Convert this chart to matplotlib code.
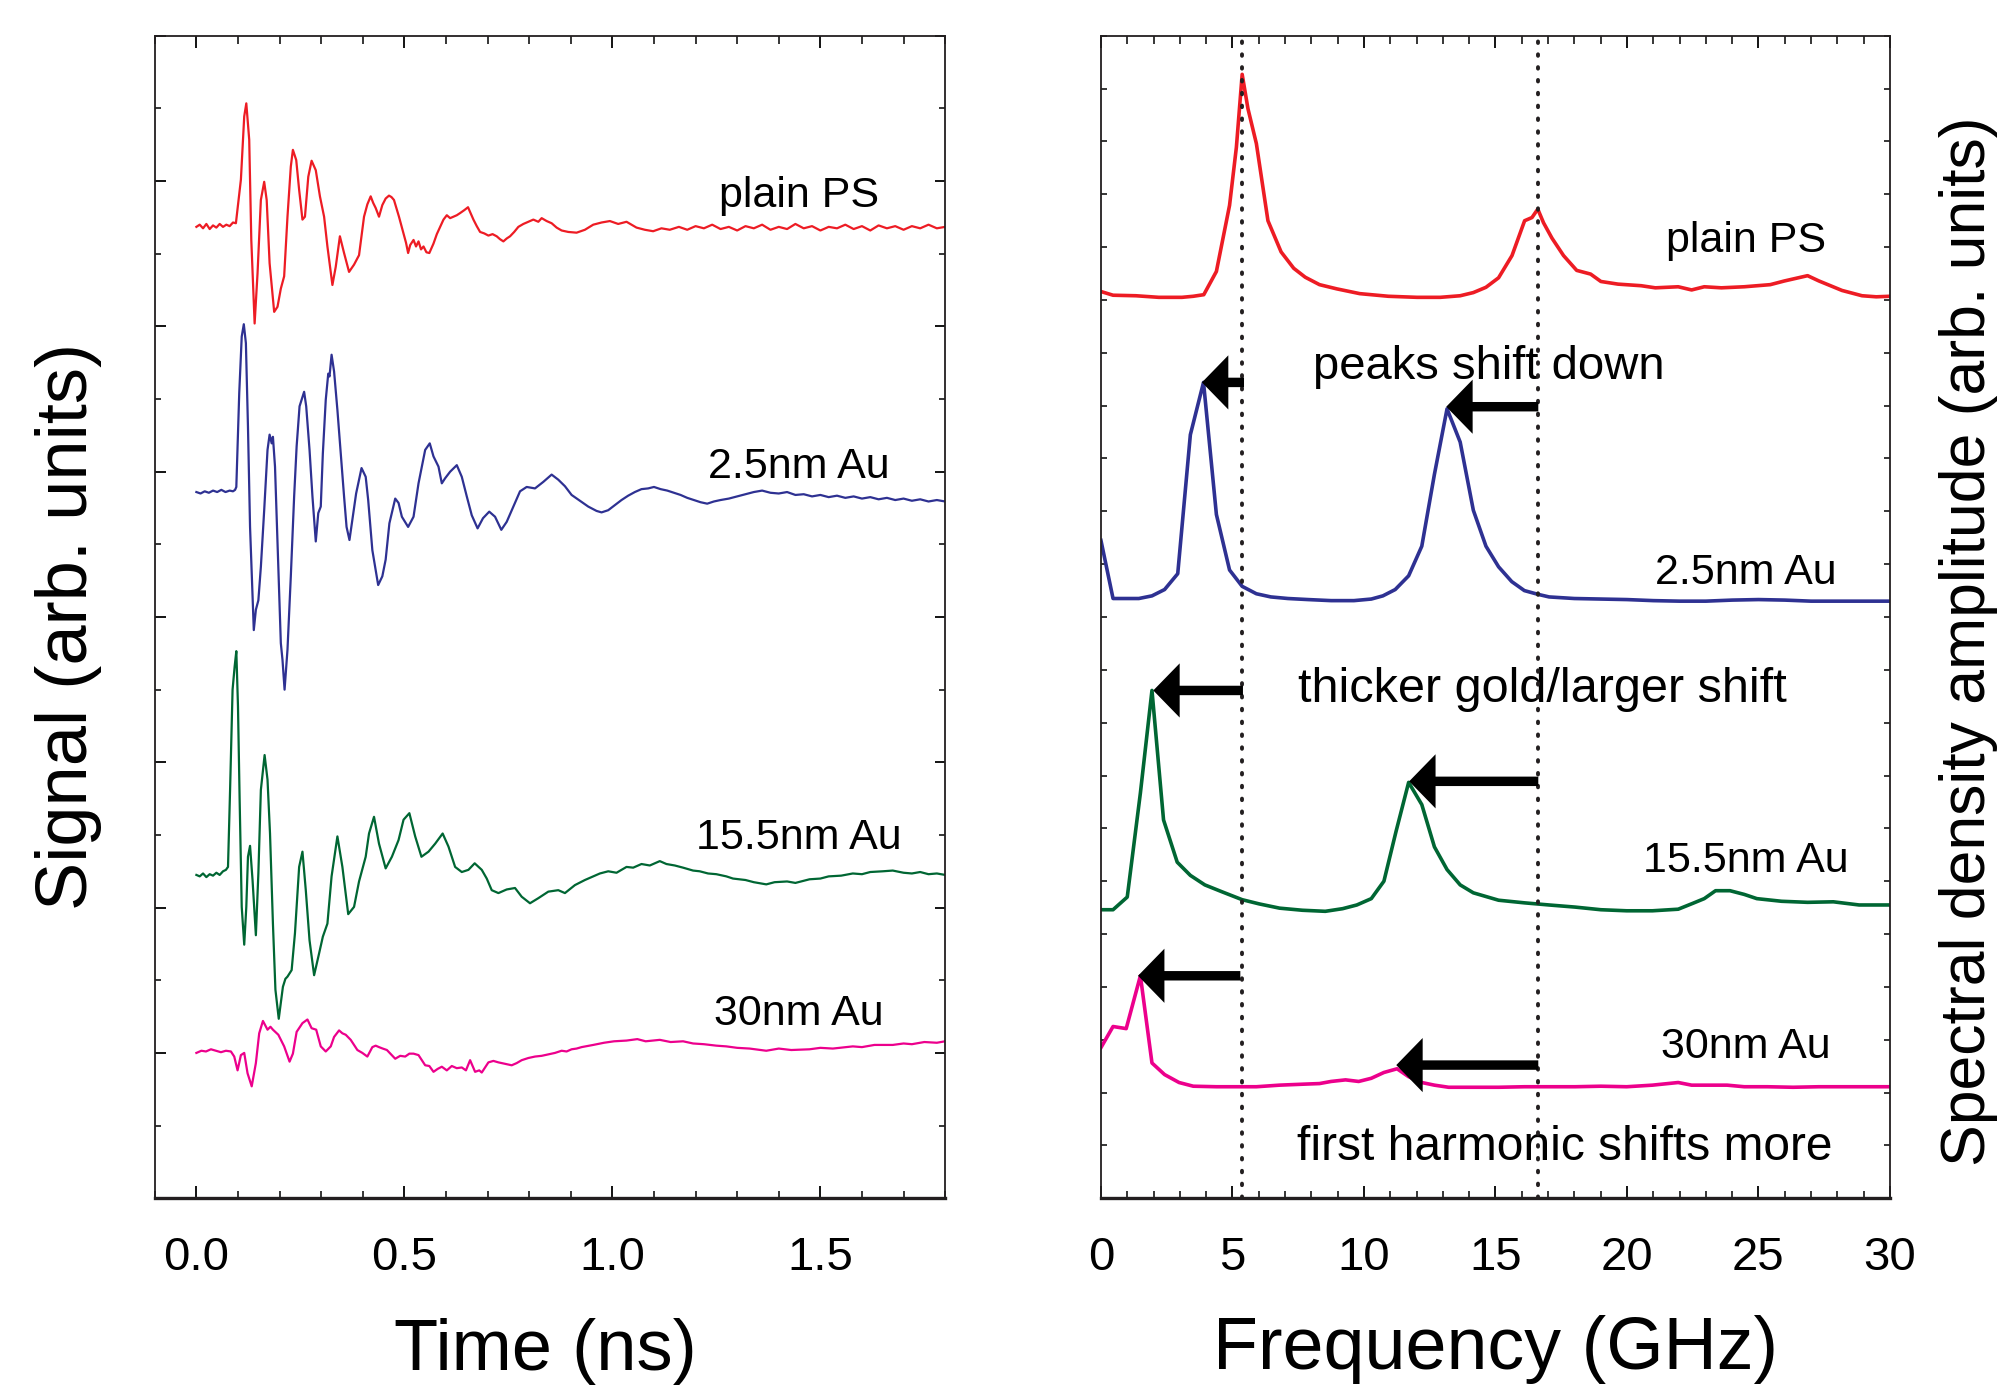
import matplotlib
matplotlib.use("Agg")
import matplotlib.pyplot as plt
from matplotlib.ticker import MultipleLocator, FixedLocator
from matplotlib.patches import ArrowStyle
from matplotlib import font_manager as fm

# ---------------- data: time-domain traces (ns, arb. units incl. offset) ----------------
t_red = [0.000, 0.008, 0.016, 0.024, 0.032, 0.040, 0.048, 0.056, 0.064, 0.072, 0.080, 0.088, 0.095,
         0.107, 0.115, 0.120, 0.127, 0.132, 0.140, 0.147, 0.155, 0.163, 0.169, 0.176, 0.187, 0.195,
         0.203, 0.211, 0.219, 0.227, 0.232, 0.240, 0.247, 0.255, 0.261, 0.269, 0.277, 0.287, 0.297,
         0.307, 0.315, 0.327, 0.335, 0.345, 0.355, 0.367, 0.373, 0.379, 0.391, 0.403, 0.411, 0.419,
         0.425, 0.431, 0.439, 0.447, 0.455, 0.463, 0.469, 0.475, 0.487, 0.498, 0.504, 0.509, 0.514,
         0.522, 0.528, 0.534, 0.540, 0.546, 0.553, 0.560, 0.570, 0.578, 0.586, 0.594, 0.602, 0.610,
         0.618, 0.626, 0.634, 0.644, 0.653, 0.660, 0.666, 0.674, 0.682, 0.692, 0.702, 0.712, 0.722,
         0.730, 0.738, 0.746, 0.754, 0.764, 0.774, 0.786, 0.798, 0.810, 0.822, 0.830, 0.842, 0.854,
         0.866, 0.878, 0.894, 0.914, 0.934, 0.954, 0.974, 0.994, 1.014, 1.034, 1.058, 1.078, 1.098,
         1.118, 1.138, 1.16, 1.18, 1.20, 1.22, 1.24, 1.26, 1.28, 1.30, 1.32, 1.34, 1.36, 1.38, 1.40,
         1.42, 1.44, 1.46, 1.48, 1.50, 1.52, 1.54, 1.56, 1.58, 1.60, 1.62, 1.64, 1.66, 1.68, 1.70,
         1.72, 1.74, 1.76, 1.78, 1.80]
v_red = [13.37, 13.40, 13.35, 13.41, 13.34, 13.39, 13.36, 13.41, 13.37, 13.40, 13.38, 13.43, 13.42,
         14.02, 14.89, 15.07, 14.57, 13.19, 12.04, 12.73, 13.74, 13.99, 13.74, 12.87, 12.20, 12.27,
         12.52, 12.69, 13.51, 14.20, 14.43, 14.29, 13.88, 13.47, 13.51, 14.06, 14.28, 14.15, 13.79,
         13.51, 13.10, 12.57, 12.82, 13.24, 13.01, 12.75, 12.80, 12.85, 12.98, 13.51, 13.68, 13.79,
         13.70, 13.63, 13.51, 13.67, 13.76, 13.80, 13.78, 13.74, 13.51, 13.28, 13.15, 13.01, 13.12,
         13.19, 13.10, 13.17, 13.06, 13.10, 13.02, 13.01, 13.14, 13.27, 13.37, 13.47, 13.53, 13.49,
         13.51, 13.53, 13.56, 13.60, 13.64, 13.55, 13.47, 13.38, 13.30, 13.28, 13.25, 13.27, 13.24,
         13.20, 13.17, 13.21, 13.24, 13.30, 13.37, 13.41, 13.44, 13.47, 13.44, 13.49, 13.45, 13.42,
         13.36, 13.32, 13.30, 13.29, 13.33, 13.40, 13.43, 13.45, 13.41, 13.44, 13.36, 13.33, 13.31,
         13.35, 13.33, 13.37, 13.33, 13.38, 13.35, 13.40, 13.34, 13.37, 13.32, 13.38, 13.35, 13.40,
         13.33, 13.37, 13.34, 13.41, 13.35, 13.38, 13.32, 13.37, 13.35, 13.40, 13.34, 13.38, 13.32,
         13.39, 13.35, 13.38, 13.33, 13.38, 13.35, 13.40, 13.35, 13.37]

t_blue = [0.000, 0.010, 0.020, 0.030, 0.040, 0.050, 0.060, 0.070, 0.080, 0.088, 0.093, 0.096,
          0.103, 0.109, 0.114, 0.119, 0.124, 0.129, 0.138, 0.143, 0.149, 0.155, 0.163, 0.171,
          0.176, 0.181, 0.184, 0.189, 0.195, 0.203, 0.207, 0.212, 0.219, 0.227, 0.235, 0.241,
          0.248, 0.255, 0.259, 0.264, 0.272, 0.279, 0.287, 0.293, 0.299, 0.304, 0.311, 0.317,
          0.320, 0.325, 0.331, 0.339, 0.347, 0.355, 0.361, 0.368, 0.375, 0.384, 0.397, 0.407,
          0.413, 0.423, 0.437, 0.447, 0.455, 0.464, 0.478, 0.486, 0.494, 0.509, 0.522, 0.534,
          0.550, 0.561, 0.570, 0.582, 0.590, 0.598, 0.610, 0.626, 0.638, 0.650, 0.662, 0.676,
          0.689, 0.704, 0.718, 0.733, 0.746, 0.762, 0.778, 0.794, 0.814, 0.834, 0.854, 0.870,
          0.886, 0.902, 0.922, 0.942, 0.962, 0.974, 0.990, 1.006, 1.022, 1.038, 1.054, 1.070,
          1.086, 1.100, 1.116, 1.132, 1.148, 1.164, 1.180, 1.196, 1.212, 1.228, 1.244, 1.260,
          1.280, 1.300, 1.320, 1.340, 1.360, 1.380, 1.400, 1.420, 1.440, 1.460, 1.480, 1.500,
          1.520, 1.540, 1.560, 1.580, 1.600, 1.620, 1.640, 1.660, 1.680, 1.700, 1.720, 1.740,
          1.760, 1.780, 1.800]
v_blue = [9.72, 9.70, 9.73, 9.71, 9.74, 9.72, 9.75, 9.72, 9.74, 9.73, 9.75, 9.79,
          11.08, 11.86, 12.03, 11.77, 10.62, 9.24, 7.82, 8.10, 8.23, 8.69, 9.47, 10.30,
          10.51, 10.39, 10.48, 10.07, 9.01, 7.64, 7.41, 7.00, 7.55, 8.56, 9.66, 10.35,
          10.90, 11.03, 11.10, 10.90, 10.30, 9.66, 9.04, 9.43, 9.52, 10.25, 10.99, 11.35,
          11.31, 11.61, 11.38, 10.85, 10.25, 9.66, 9.24, 9.06, 9.34, 9.70, 10.05, 9.93,
          9.61, 8.92, 8.44, 8.56, 8.79, 9.29, 9.63, 9.57, 9.38, 9.24, 9.38, 9.84,
          10.30, 10.39, 10.21, 10.07, 9.84, 9.91, 10.00, 10.09, 9.93, 9.66, 9.40, 9.22,
          9.36, 9.45, 9.38, 9.20, 9.31, 9.52, 9.73, 9.79, 9.77, 9.86, 9.96, 9.89,
          9.80, 9.68, 9.60, 9.52, 9.46, 9.44, 9.47, 9.54, 9.61, 9.67, 9.72, 9.76,
          9.77, 9.79, 9.76, 9.74, 9.71, 9.68, 9.64, 9.61, 9.58, 9.56, 9.59, 9.61,
          9.63, 9.66, 9.69, 9.72, 9.74, 9.71, 9.70, 9.72, 9.68, 9.69, 9.66, 9.68,
          9.65, 9.67, 9.64, 9.66, 9.63, 9.65, 9.62, 9.64, 9.61, 9.63, 9.60, 9.62,
          9.59, 9.61, 9.59]

t_green = [0.000, 0.008, 0.016, 0.024, 0.032, 0.040, 0.048, 0.056, 0.064, 0.071, 0.076, 0.081,
           0.087, 0.092, 0.096, 0.100, 0.104, 0.109, 0.115, 0.120, 0.124, 0.129, 0.135, 0.143,
           0.149, 0.155, 0.164, 0.171, 0.177, 0.184, 0.190, 0.198, 0.208, 0.214, 0.219, 0.229,
           0.237, 0.247, 0.255, 0.263, 0.272, 0.283, 0.295, 0.304, 0.315, 0.325, 0.339, 0.351,
           0.365, 0.379, 0.391, 0.407, 0.415, 0.427, 0.439, 0.455, 0.470, 0.486, 0.498, 0.512,
           0.526, 0.541, 0.558, 0.574, 0.592, 0.606, 0.622, 0.638, 0.654, 0.669, 0.686, 0.698,
           0.710, 0.726, 0.746, 0.766, 0.782, 0.802, 0.822, 0.846, 0.870, 0.886, 0.910, 0.934,
           0.954, 0.970, 0.990, 1.010, 1.034, 1.050, 1.070, 1.090, 1.114, 1.130, 1.150, 1.170,
           1.194, 1.210, 1.230, 1.250, 1.274, 1.290, 1.320, 1.340, 1.370, 1.390, 1.420, 1.440,
           1.474, 1.500, 1.520, 1.550, 1.578, 1.600, 1.620, 1.650, 1.674, 1.700, 1.720, 1.740,
           1.760, 1.780, 1.800]
v_green = [4.45, 4.43, 4.47, 4.42, 4.46, 4.44, 4.48, 4.45, 4.50, 4.52, 4.56, 5.62,
           7.00, 7.32, 7.53, 6.77, 5.48, 4.01, 3.49, 4.01, 4.70, 4.85, 4.38, 3.62,
           4.47, 5.62, 6.10, 5.76, 5.02, 3.78, 2.87, 2.47, 2.91, 3.02, 3.05, 3.14,
           3.65, 4.56, 4.77, 4.24, 3.55, 3.07, 3.37, 3.60, 3.78, 4.43, 4.98, 4.56,
           3.91, 4.01, 4.36, 4.70, 5.02, 5.25, 4.88, 4.54, 4.70, 4.93, 5.21, 5.30,
           4.98, 4.70, 4.77, 4.88, 5.02, 4.84, 4.56, 4.49, 4.52, 4.61, 4.52, 4.40,
           4.24, 4.20, 4.25, 4.27, 4.15, 4.06, 4.13, 4.22, 4.24, 4.20, 4.31, 4.38,
           4.43, 4.47, 4.50, 4.48, 4.56, 4.55, 4.60, 4.58, 4.64, 4.60, 4.58, 4.55,
           4.51, 4.50, 4.47, 4.46, 4.43, 4.40, 4.38, 4.35, 4.32, 4.35, 4.36, 4.34,
           4.39, 4.40, 4.43, 4.44, 4.47, 4.46, 4.49, 4.50, 4.51, 4.48, 4.47, 4.49,
           4.46, 4.47, 4.45]

t_mag = [0.000, 0.012, 0.023, 0.035, 0.047, 0.059, 0.071, 0.083, 0.091, 0.099, 0.107, 0.115,
         0.123, 0.133, 0.143, 0.151, 0.160, 0.171, 0.178, 0.184, 0.197, 0.211, 0.224, 0.232,
         0.241, 0.255, 0.267, 0.277, 0.288, 0.299, 0.311, 0.323, 0.331, 0.343, 0.351, 0.359,
         0.371, 0.387, 0.399, 0.411, 0.423, 0.431, 0.439, 0.448, 0.458, 0.468, 0.478, 0.490,
         0.502, 0.512, 0.522, 0.534, 0.550, 0.560, 0.570, 0.580, 0.590, 0.602, 0.614, 0.626,
         0.638, 0.648, 0.658, 0.670, 0.680, 0.686, 0.702, 0.714, 0.726, 0.742, 0.758, 0.770,
         0.782, 0.798, 0.814, 0.830, 0.846, 0.862, 0.878, 0.890, 0.902, 0.914, 0.926, 0.954,
         0.980, 1.004, 1.034, 1.060, 1.080, 1.114, 1.140, 1.170, 1.194, 1.220, 1.250, 1.274,
         1.300, 1.330, 1.370, 1.400, 1.430, 1.474, 1.500, 1.530, 1.578, 1.600, 1.630, 1.674,
         1.700, 1.720, 1.750, 1.780, 1.800]
v_mag = [2.00, 2.03, 2.02, 2.05, 2.03, 2.01, 2.03, 2.02, 1.95, 1.76, 1.97, 2.00,
         1.72, 1.54, 1.86, 2.27, 2.44, 2.32, 2.36, 2.32, 2.25, 2.09, 1.88, 1.99,
         2.29, 2.41, 2.46, 2.34, 2.32, 2.09, 2.02, 2.09, 2.22, 2.31, 2.27, 2.25,
         2.18, 2.04, 2.00, 1.95, 2.08, 2.10, 2.08, 2.06, 2.04, 1.98, 1.92, 1.96,
         1.95, 1.99, 1.99, 1.97, 1.83, 1.82, 1.74, 1.78, 1.81, 1.76, 1.82, 1.79,
         1.80, 1.76, 1.90, 1.74, 1.76, 1.73, 1.87, 1.89, 1.87, 1.85, 1.83, 1.86,
         1.90, 1.93, 1.95, 1.96, 1.98, 2.00, 2.03, 2.02, 2.05, 2.06, 2.08, 2.11,
         2.14, 2.16, 2.17, 2.19, 2.16, 2.18, 2.15, 2.16, 2.13, 2.12, 2.10, 2.09,
         2.07, 2.06, 2.03, 2.06, 2.04, 2.05, 2.07, 2.06, 2.09, 2.08, 2.11, 2.11,
         2.13, 2.12, 2.15, 2.14, 2.16]

# ---------------- data: spectra (GHz, arb. units incl. offset) ----------------
f_red = [0, 0.46, 1.33, 2.20, 3.08, 3.51, 3.91, 4.39, 4.89, 5.15, 5.37, 5.59, 5.91, 6.35, 6.85,
         7.33, 7.77, 8.31, 8.97, 9.84, 10.93, 12.02, 12.90, 13.66, 14.16, 14.64, 15.12, 15.63,
         16.11, 16.39, 16.61, 16.83, 17.15, 17.59, 18.09, 18.62, 19.01, 19.66, 20.54, 21.08,
         21.95, 22.46, 22.94, 23.59, 24.46, 25.45, 25.99, 26.43, 26.87, 27.30, 28.18, 28.94,
         29.48, 30.0]
a_red = [17.16, 17.09, 17.08, 17.05, 17.05, 17.07, 17.10, 17.54, 18.79, 19.89, 21.27, 20.62,
         19.96, 18.50, 17.91, 17.60, 17.43, 17.29, 17.21, 17.12, 17.07, 17.05, 17.05, 17.08,
         17.14, 17.24, 17.42, 17.84, 18.50, 18.56, 18.72, 18.46, 18.17, 17.84, 17.56, 17.49,
         17.35, 17.30, 17.27, 17.23, 17.25, 17.19, 17.25, 17.23, 17.25, 17.29, 17.36, 17.41,
         17.46, 17.36, 17.18, 17.08, 17.06, 17.07]

f_blue = [0, 0.46, 1.44, 1.94, 2.42, 2.92, 3.40, 3.90, 4.39, 4.89, 5.37, 5.91, 6.46, 7.11, 7.88,
          8.75, 9.62, 10.28, 10.72, 11.19, 11.70, 12.20, 12.68, 13.16, 13.66, 14.16, 14.64, 15.12,
          15.62, 16.10, 16.61, 17.04, 18.0, 19.0, 20.0, 21.0, 22.0, 23.0, 24.0, 25.0, 26.0, 27.0,
          28.0, 29.0, 30.0]
a_blue = [12.45, 11.35, 11.35, 11.40, 11.52, 11.82, 14.45, 15.44, 12.94, 11.89, 11.58, 11.44,
          11.38, 11.35, 11.33, 11.31, 11.31, 11.34, 11.40, 11.52, 11.78, 12.34, 13.70, 14.94,
          14.31, 13.02, 12.34, 11.95, 11.67, 11.50, 11.43, 11.38, 11.35, 11.34, 11.33, 11.31,
          11.30, 11.30, 11.32, 11.33, 11.32, 11.30, 11.30, 11.30, 11.30]

f_green = [0, 0.46, 1.00, 1.50, 1.94, 2.38, 2.90, 3.40, 3.95, 4.60, 5.37, 6.02, 6.79, 7.66, 8.53,
           9.19, 9.73, 10.28, 10.76, 11.22, 11.70, 12.20, 12.68, 13.16, 13.66, 14.16, 15.12,
           16.11, 17.04, 18.03, 19.01, 19.99, 20.97, 21.95, 22.50, 22.94, 23.37, 23.92, 24.46,
           24.94, 25.88, 26.87, 27.85, 28.83, 30.0]
a_green = [5.46, 5.46, 5.70, 7.67, 9.61, 7.16, 6.36, 6.11, 5.93, 5.80, 5.65, 5.57, 5.49, 5.45,
           5.43, 5.48, 5.55, 5.67, 6.00, 6.94, 7.87, 7.45, 6.65, 6.22, 5.93, 5.78, 5.64, 5.59,
           5.55, 5.51, 5.46, 5.44, 5.44, 5.47, 5.58, 5.67, 5.82, 5.82, 5.75, 5.67, 5.62, 5.60,
           5.61, 5.55, 5.55]

f_mag = [0, 0.46, 0.96, 1.50, 1.94, 2.42, 2.97, 3.51, 4.39, 5.37, 5.91, 6.79, 7.77, 8.31, 8.75,
         9.30, 9.80, 10.28, 10.76, 11.26, 11.70, 12.20, 12.68, 13.22, 14.16, 15.12, 16.11, 17.04,
         18.03, 19.01, 19.99, 20.97, 21.95, 22.46, 22.94, 23.81, 24.46, 25.34, 26.32, 27.30,
         28.28, 30.0]
a_mag = [2.85, 3.25, 3.21, 4.21, 2.56, 2.34, 2.19, 2.12, 2.11, 2.11, 2.11, 2.14, 2.16, 2.17,
         2.21, 2.24, 2.21, 2.27, 2.38, 2.45, 2.30, 2.19, 2.14, 2.10, 2.10, 2.10, 2.11, 2.11,
         2.11, 2.12, 2.11, 2.14, 2.19, 2.14, 2.14, 2.14, 2.11, 2.11, 2.10, 2.11, 2.11, 2.11]

# arrows (GHz tail -> GHz tip, level)
arrow_tail = [5.44, 16.63, 5.40, 16.63, 5.30, 16.63]
arrow_tip = [3.84, 13.13, 1.99, 11.72, 1.41, 11.23]
arrow_level = [15.44, 14.98, 9.61, 7.89, 4.21, 2.52]

dotted_freqs = [5.36, 16.6]

time_labels = ["plain PS", "2.5nm Au", "15.5nm Au", "30nm Au"]
time_label_y = [13.64, 9.91, 4.81, 2.38]
spec_labels = ["plain PS", "2.5nm Au", "15.5nm Au", "30nm Au"]
spec_label_y = [17.91, 11.62, 6.17, 2.66]
notes = ["peaks shift down", "thicker gold/larger shift", "first harmonic shifts more"]
note_x = [14.75, 16.77, 17.62]
note_y = [15.51, 9.39, 0.73]

xticks_time = [0.0, 0.5, 1.0, 1.5]
xticklabels_time = ["0.0", "0.5", "1.0", "1.5"]
xticks_freq = [0, 5, 10, 15, 20, 25, 30]
xticklabels_freq = ["0", "5", "10", "15", "20", "25", "30"]

colors = ["#ed1c24", "#2e3192", "#006633", "#ec008c"]

# ---------------- fonts ----------------
names = {f.name for f in fm.fontManager.ttflist}
REG = "Liberation Sans" if "Liberation Sans" in names else "DejaVu Sans"
if "Liberation Sans Narrow" in names:
    TICKFONT, TICKSIZE = "Liberation Sans Narrow", 40
else:
    TICKFONT, TICKSIZE = REG, 34
plt.rcParams["font.family"] = [REG, "DejaVu Sans"]

PX = 0.72  # points per pixel at dpi 100

fig = plt.figure(figsize=(20.05, 13.87), dpi=100)
ax1 = fig.add_axes([0.0772, 0.1361, 0.3942, 0.8381])
ax2 = fig.add_axes([0.5491, 0.1361, 0.3935, 0.8381])

# ---------- left panel ----------
for t, v, c in zip([t_red, t_blue, t_green, t_mag], [v_red, v_blue, v_green, v_mag], colors):
    ax1.plot(t, v, color=c, lw=1.6, solid_joinstyle="round")
ax1.set_xlim(-0.1, 1.8)
ax1.set_ylim(0, 16)
ax1.xaxis.set_major_locator(FixedLocator(xticks_time))
ax1.set_xticklabels(xticklabels_time)
ax1.xaxis.set_minor_locator(MultipleLocator(0.1))
ax1.yaxis.set_major_locator(MultipleLocator(2))
ax1.yaxis.set_minor_locator(MultipleLocator(1))
ax1.tick_params(axis="x", which="major", direction="in", length=12 * PX, width=1.3,
                top=True, bottom=True, pad=27)
ax1.tick_params(axis="x", which="minor", direction="in", length=7.5 * PX, width=1.1,
                top=True, bottom=True)
ax1.tick_params(axis="y", which="major", direction="in", length=10.5 * PX, width=1.3,
                left=True, right=True, labelleft=False)
ax1.tick_params(axis="y", which="minor", direction="in", length=6 * PX, width=1.1,
                left=True, right=True)
for lab, y in zip(time_labels, time_label_y):
    ax1.text(1.448, y, lab, ha="center", va="baseline", fontsize=31, color="black")

# ---------- right panel ----------
for f, a, c in zip([f_red, f_blue, f_green, f_mag], [a_red, a_blue, a_green, a_mag], colors):
    ax2.plot(f, a, color=c, lw=2.6, solid_joinstyle="round", zorder=2)
for fx in dotted_freqs:
    ax2.axvline(fx, color="#231f20", lw=2.8, linestyle=(0, (0.4, 2.9)),
                dash_capstyle="round", zorder=3)
style = ArrowStyle("simple", head_length=1.9, head_width=3.9, tail_width=0.68)
for ft, fh, lv in zip(arrow_tail, arrow_tip, arrow_level):
    ax2.annotate("", xy=(fh, lv), xytext=(ft, lv),
                 arrowprops=dict(arrowstyle=style, color="black", shrinkA=0, shrinkB=0,
                                 mutation_scale=10, lw=0), zorder=4)
ax2.set_xlim(0, 30)
ax2.set_ylim(0, 22)
ax2.xaxis.set_major_locator(FixedLocator(xticks_freq))
ax2.set_xticklabels(xticklabels_freq)
ax2.xaxis.set_minor_locator(MultipleLocator(1))
ax2.yaxis.set_major_locator(MultipleLocator(1))
ax2.tick_params(axis="x", which="major", direction="in", length=12 * PX, width=1.3,
                top=True, bottom=True, pad=27)
ax2.tick_params(axis="x", which="minor", direction="in", length=7.5 * PX, width=1.1,
                top=True, bottom=True)
ax2.tick_params(axis="y", which="major", direction="in", length=6 * PX, width=1.1,
                left=True, right=True, labelleft=False)
for lab, y in zip(spec_labels, spec_label_y):
    ax2.text(24.53, y, lab, ha="center", va="baseline", fontsize=31, color="black", zorder=5)
note_sizes = [34, 35, 34.5]
for lab, x, y, s in zip(notes, note_x, note_y, note_sizes):
    ax2.text(x, y, lab, ha="center", va="baseline", fontsize=s, color="black", zorder=1)

for ax in (ax1, ax2):
    for s in ("left", "right", "top"):
        ax.spines[s].set_linewidth(1.3)
        ax.spines[s].set_color("#231f20")
    ax.spines["bottom"].set_linewidth(2.4)
    ax.spines["bottom"].set_color("#231f20")
    for lab in ax.get_xticklabels():
        lab.set_fontfamily([TICKFONT, "DejaVu Sans"])
        lab.set_fontsize(TICKSIZE)

# ---------- axis titles ----------
fig.text(0.2718, 0.0125, "Time (ns)", ha="center", va="baseline", fontsize=52)
fig.text(0.746, 0.0130, "Frequency (GHz)", ha="center", va="baseline", fontsize=53)
fig.text(0.0434, 0.548, "Signal (arb. units)", rotation=90, rotation_mode="anchor",
         ha="center", va="baseline", fontsize=52)
fig.text(0.990, 0.538, "Spectral density amplitude (arb. units)", rotation=90,
         rotation_mode="anchor", ha="center", va="baseline", fontsize=45)

fig.savefig("out.png", dpi=100)
